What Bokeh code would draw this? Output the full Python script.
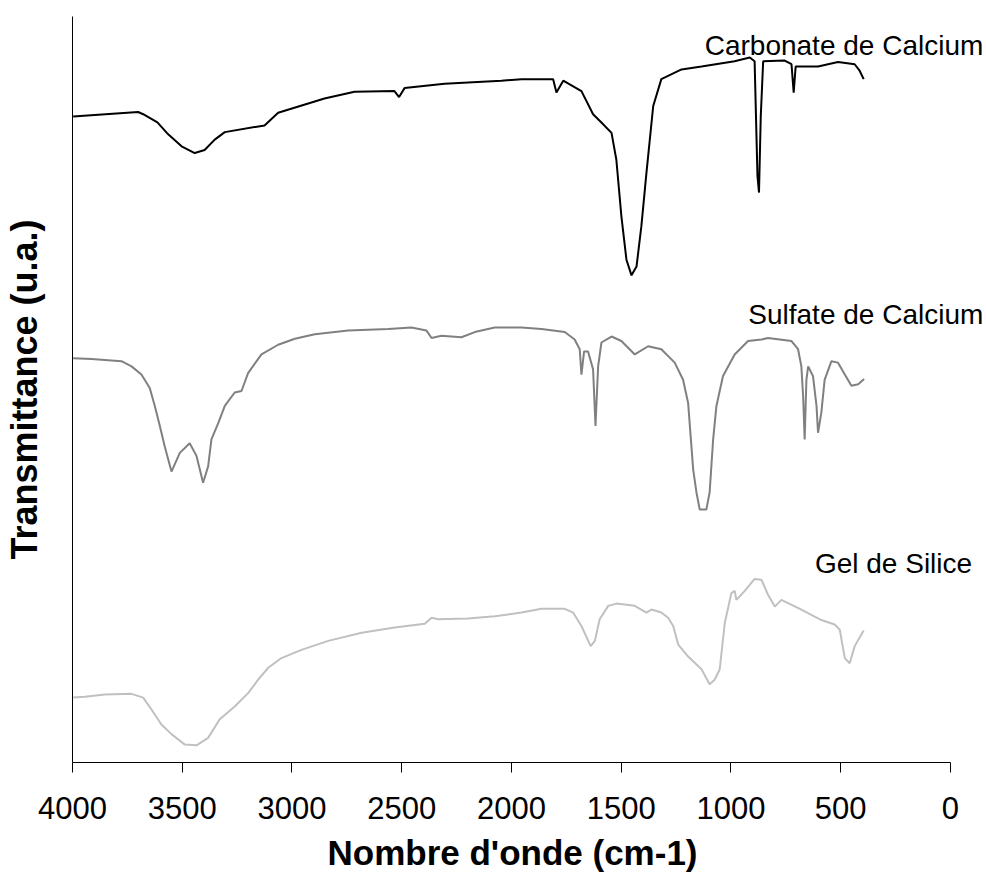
from bokeh.plotting import figure
from bokeh.models import Range1d, FixedTicker, Label, Title
from bokeh.embed import file_html
from bokeh.resources import INLINE

# --- data (wavenumber cm-1, transmittance u.a.) ---
xticks = [0, 500, 1000, 1500, 2000, 2500, 3000, 3500, 4000]

carb_x = [3997, 3850, 3701, 3678, 3613, 3564, 3503, 3443, 3398, 3352,
          3306, 3125, 3063, 2852, 2715, 2533, 2512, 2487, 2305, 2046,
          1954, 1810, 1795, 1764, 1681, 1628, 1590, 1544, 1522, 1499,
          1476, 1453, 1430, 1408, 1385, 1354, 1317, 1225, 1134, 983,
          914, 892, 879, 872, 864, 853, 755, 724, 714, 705,
          603, 512, 436, 413, 395]
carb_y = [86.6, 86.9, 87.2, 86.9, 85.8, 84.2, 82.6, 81.7, 82.1, 83.5,
          84.5, 85.4, 87.1, 89.0, 89.9, 90.0, 89.2, 90.4, 91.0, 91.4,
          91.6, 91.6, 89.8, 91.4, 90.0, 86.9, 85.8, 84.4, 80.8, 73.2,
          67.4, 65.3, 66.5, 71.9, 79.0, 88.0, 91.6, 92.9, 93.3, 94.0,
          94.5, 94.0, 78.6, 76.4, 86.6, 94.0, 94.1, 93.6, 89.8, 93.3,
          93.3, 93.9, 93.6, 92.7, 91.6]

sulf_x = [3997, 3913, 3777, 3731, 3686, 3648, 3625, 3602, 3580, 3549,
          3511, 3466, 3435, 3405, 3382, 3367, 3336, 3306, 3261, 3230,
          3200, 3139, 3063, 2987, 2896, 2744, 2562, 2456, 2387, 2364,
          2319, 2228, 2167, 2076, 1954, 1863, 1757, 1712, 1689, 1681,
          1669, 1651, 1628, 1617, 1605, 1590, 1544, 1499, 1438, 1377,
          1317, 1256, 1218, 1195, 1172, 1157, 1142, 1112, 1097, 1081,
          1066, 1036, 983, 922, 861, 831, 724, 694, 679, 671,
          664, 656, 648, 626, 610, 603, 588, 573, 542, 512,
          481, 451, 420, 393]
sulf_y = [54.2, 54.1, 53.8, 53.1, 52.0, 50.2, 47.8, 45.1, 42.4, 39.0,
          41.5, 42.8, 41.1, 37.5, 39.7, 43.3, 45.5, 47.8, 49.6, 49.8,
          52.2, 54.7, 56.0, 56.8, 57.4, 57.9, 58.1, 58.3, 57.9, 56.9,
          57.2, 57.0, 57.7, 58.3, 58.3, 58.1, 57.7, 56.7, 55.4, 52.0,
          55.1, 55.1, 52.7, 45.1, 53.1, 56.3, 57.1, 56.5, 54.7, 55.8,
          55.4, 53.6, 51.3, 48.2, 39.3, 36.2, 33.9, 33.9, 36.2, 43.3,
          47.8, 51.8, 54.7, 56.5, 56.7, 56.9, 56.5, 55.4, 53.1, 49.1,
          43.3, 51.3, 53.1, 51.8, 47.8, 44.2, 46.9, 51.3, 53.8, 53.6,
          52.0, 50.5, 50.7, 51.4]

gel_x = [3997, 3944, 3853, 3731, 3678, 3640, 3595, 3549, 3488, 3435,
         3382, 3329, 3261, 3200, 3154, 3108, 3048, 2957, 2835, 2683,
         2532, 2395, 2364, 2334, 2197, 2076, 1954, 1863, 1757, 1719,
         1681, 1639, 1620, 1598, 1559, 1522, 1438, 1385, 1362, 1317,
         1286, 1263, 1240, 1195, 1134, 1097, 1074, 1051, 1028, 998,
         983, 975, 937, 892, 861, 831, 800, 770, 679, 588,
         527, 504, 481, 459, 436, 395]
gel_y = [8.7, 8.8, 9.1, 9.2, 8.7, 7.1, 5.1, 3.8, 2.4, 2.3,
         3.3, 5.8, 7.5, 9.3, 11.1, 12.7, 14.0, 15.1, 16.3, 17.4,
         18.1, 18.6, 19.4, 19.2, 19.3, 19.6, 20.1, 20.6, 20.6, 20.1,
         18.3, 15.6, 16.3, 19.2, 21.0, 21.3, 21.0, 20.1, 20.5, 20.1,
         19.4, 18.3, 15.8, 14.2, 12.5, 10.5, 11.1, 12.5, 18.7, 22.7,
         23.0, 21.8, 23.0, 24.6, 24.5, 22.5, 20.9, 21.8, 20.5, 19.1,
         18.5, 17.8, 14.0, 13.3, 15.6, 17.7]

series_names = ["Carbonate de Calcium", "Sulfate de Calcium", "Gel de Silice"]

FONT = "Liberation Sans"

# x range extends a little past 0 so that the series labels fit;
# the axis line itself is bounded to 0..4000
p = figure(frame_width=913, frame_height=746,
           x_range=Range1d(4000, -160), y_range=Range1d(0, 100),
           output_backend="svg", toolbar_location=None,
           min_border_left=72, min_border_right=0,
           min_border_top=16, min_border_bottom=60,
           y_axis_label="Transmittance (u.a.)")
p.grid.visible = False
p.outline_line_color = None
p.background_fill_color = "white"
p.border_fill_color = "white"

p.line(carb_x, carb_y, line_color="black", line_width=2)
p.line(sulf_x, sulf_y, line_color="#808080", line_width=2)
p.line(gel_x, gel_y, line_color="#C0C0C0", line_width=2)

# x axis
xa = p.xaxis[0]
xa.bounds = (0, 4000)
xa.ticker = FixedTicker(ticks=xticks)
xa.major_tick_in = 0
xa.major_tick_out = 10
xa.minor_tick_out = 0
xa.minor_tick_in = 0
xa.axis_line_color = "black"
xa.major_tick_line_color = "black"
xa.major_label_text_font = FONT
xa.major_label_text_font_size = "31px"
xa.major_label_text_color = "black"
xa.major_label_standoff = 24

# x axis title, placed under the 4000..0 span (frame is wider)
xtitle = Title(text="Nombre d'onde (cm-1)", align="left", offset=255,
               text_font=FONT, text_font_size="35px", text_font_style="bold",
               text_color="black", standoff=18)
p.add_layout(xtitle, "below")

# y axis
ya = p.yaxis[0]
ya.ticker = FixedTicker(ticks=[])
ya.major_tick_out = 0
ya.major_tick_in = 0
ya.minor_tick_out = 0
ya.minor_tick_in = 0
ya.major_label_text_font_size = "0px"
ya.axis_line_color = "black"
ya.axis_label_text_font = FONT
ya.axis_label_text_font_size = "36px"
ya.axis_label_text_font_style = "bold"
ya.axis_label_text_color = "black"
ya.axis_label_standoff = 28

# series labels
label_pos = [(-150, 96.1), (-150, 60.1), (-99, 26.7)]
for name, (lx, ly) in zip(series_names, label_pos):
    p.add_layout(Label(x=lx, y=ly, text=name, text_align="right",
                       text_baseline="alphabetic", text_font=FONT,
                       text_font_size="28px", text_color="black"))

open("out.html", "w").write(file_html(p, INLINE))
